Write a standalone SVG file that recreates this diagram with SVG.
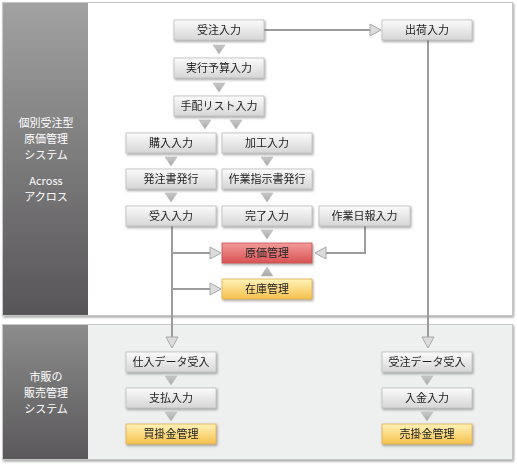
<svg xmlns="http://www.w3.org/2000/svg" width="517" height="465" viewBox="0 0 517 465">
<defs>
<linearGradient id="gNode" x1="0" y1="0" x2="0" y2="1"><stop offset="0" stop-color="#fbfbfb"/><stop offset="1" stop-color="#d6d6d6"/></linearGradient>
<linearGradient id="gRed" x1="0" y1="0" x2="0" y2="1"><stop offset="0" stop-color="#f29a9a"/><stop offset="1" stop-color="#d95252"/></linearGradient>
<linearGradient id="gYel" x1="0" y1="0" x2="0" y2="1"><stop offset="0" stop-color="#fff2b8"/><stop offset="1" stop-color="#f6c04e"/></linearGradient>
<linearGradient id="gSide1" x1="0" y1="0" x2="0" y2="1"><stop offset="0" stop-color="#a2a2a2"/><stop offset="1" stop-color="#575557"/></linearGradient>
<linearGradient id="gSide2" x1="0" y1="0" x2="0" y2="1"><stop offset="0" stop-color="#8c8c8c"/><stop offset="1" stop-color="#5a585a"/></linearGradient>
<linearGradient id="gTri" x1="0" y1="0" x2="0" y2="1"><stop offset="0" stop-color="#c8c8c8"/><stop offset="1" stop-color="#a8a8a8"/></linearGradient>
<filter id="sh" x="-10%" y="-10%" width="130%" height="150%"><feDropShadow dx="1" dy="1.5" stdDeviation="0.8" flood-color="#555" flood-opacity="0.55"/></filter>
</defs>
<style>
.nb{fill:url(#gNode);stroke:#bdbdbd;stroke-width:0.8}
.nr{fill:url(#gRed);stroke:#c65050;stroke-width:0.8}
.ny{fill:url(#gYel);stroke:#e2b050;stroke-width:0.8}
.node{filter:url(#sh)}
.t{font-family:"Noto Sans CJK JP","Noto Sans",sans-serif;font-size:11px;fill:#222;text-anchor:middle}
.st{font-family:"Noto Sans CJK JP","Noto Sans",sans-serif;font-size:11px;fill:#fff;text-anchor:middle}
.tri{fill:url(#gTri);stroke:#b8b8b8;stroke-width:0.6}
.ln{fill:none;stroke:#9c9c9c;stroke-width:2}
.hd{fill:#dcdcdc;stroke:#a8a8a8;stroke-width:1}
</style>

<g id="panel-top">
<rect x="2.5" y="2.5" width="510" height="313" fill="#ffffff" stroke="#c8c8c8" filter="url(#sh)"/>
<rect x="3" y="3" width="85" height="312" fill="url(#gSide1)"/>
<text class="st" x="46" y="127">個別受注型</text>
<text class="st" x="46" y="143">原価管理</text>
<text class="st" x="46" y="159">システム</text>
<text class="st" x="46" y="185">Across</text>
<text class="st" x="46" y="201">アクロス</text>
</g>
<g id="panel-bottom">
<rect x="2.5" y="324.5" width="510" height="135" fill="#eef0f0" stroke="#c8c8c8" filter="url(#sh)"/>
<rect x="3" y="325" width="85" height="134" fill="url(#gSide2)"/>
<text class="st" x="46" y="381">市販の</text>
<text class="st" x="46" y="397">販売管理</text>
<text class="st" x="46" y="413">システム</text>
</g>

<g id="connectors">
<path class="ln" d="M264 30 H371"/>
<path class="hd" d="M370 24 L381 30 L370 36 Z"/>
<path class="ln" d="M428 40 V338"/>
<path class="hd" d="M422 337 L428 348 L434 337 Z"/>
<path class="ln" d="M172 226 V338"/>
<path class="hd" d="M166 337 L172 348 L178 337 Z"/>
<path class="ln" d="M172 253 H211"/>
<path class="hd" d="M210 247 L221 253 L210 259 Z"/>
<path class="ln" d="M172 289 H211"/>
<path class="hd" d="M210 283 L221 289 L210 295 Z"/>
<path class="ln" d="M365 226 V253 H325"/>
<path class="hd" d="M326 247 L315 253 L326 259 Z"/>
<path class="tri" d="M213 45 H225 L219 54 Z"/>
<path class="tri" d="M213 83 H225 L219 92 Z"/>
<path class="tri" d="M199 120 H211 L205 129 Z"/>
<path class="tri" d="M230 120 H242 L236 129 Z"/>
<path class="tri" d="M165 157 H177 L171 166 Z"/>
<path class="tri" d="M261 157 H273 L267 166 Z"/>
<path class="tri" d="M165 193 H177 L171 202 Z"/>
<path class="tri" d="M261 193 H273 L267 202 Z"/>
<path class="tri" d="M261 230 H273 L267 239 Z"/>
<path class="tri" d="M261 276 H273 L267 267 Z"/>
<path class="tri" d="M165 376 H177 L171 385 Z"/>
<path class="tri" d="M165 412 H177 L171 421 Z"/>
<path class="tri" d="M421 376 H433 L427 385 Z"/>
<path class="tri" d="M421 412 H433 L427 421 Z"/>
</g>

<g id="n-juchu" class="node"><rect class="nb" x="174" y="20" width="90" height="20"/><text class="t" x="219" y="34">受注入力</text></g>
<g id="n-shukka" class="node"><rect class="nb" x="382" y="20" width="90" height="20"/><text class="t" x="427" y="34">出荷入力</text></g>
<g id="n-yosan" class="node"><rect class="nb" x="174" y="58" width="90" height="20"/><text class="t" x="219" y="72">実行予算入力</text></g>
<g id="n-tehai" class="node"><rect class="nb" x="174" y="96" width="90" height="20"/><text class="t" x="219" y="110">手配リスト入力</text></g>
<g id="n-konyu" class="node"><rect class="nb" x="126" y="133" width="90" height="20"/><text class="t" x="171" y="147">購入入力</text></g>
<g id="n-kako" class="node"><rect class="nb" x="222" y="133" width="90" height="20"/><text class="t" x="267" y="147">加工入力</text></g>
<g id="n-hatchu" class="node"><rect class="nb" x="126" y="169" width="90" height="20"/><text class="t" x="171" y="183">発注書発行</text></g>
<g id="n-sagyoshiji" class="node"><rect class="nb" x="222" y="169" width="90" height="20"/><text class="t" x="267" y="183">作業指示書発行</text></g>
<g id="n-ukeire" class="node"><rect class="nb" x="126" y="206" width="90" height="20"/><text class="t" x="171" y="220">受入入力</text></g>
<g id="n-kanryo" class="node"><rect class="nb" x="222" y="206" width="90" height="20"/><text class="t" x="267" y="220">完了入力</text></g>
<g id="n-nippo" class="node"><rect class="nb" x="319" y="206" width="91" height="20"/><text class="t" x="364.5" y="220">作業日報入力</text></g>
<g id="n-genka" class="node"><rect class="nr" x="222" y="243" width="90" height="20"/><text class="t" x="267" y="257">原価管理</text></g>
<g id="n-zaiko" class="node"><rect class="ny" x="222" y="279" width="90" height="20"/><text class="t" x="267" y="293">在庫管理</text></g>
<g id="n-shiire" class="node"><rect class="nb" x="126" y="352" width="90" height="20"/><text class="t" x="171" y="366">仕入データ受入</text></g>
<g id="n-shiharai" class="node"><rect class="nb" x="126" y="388" width="90" height="20"/><text class="t" x="171" y="402">支払入力</text></g>
<g id="n-kaikake" class="node"><rect class="ny" x="126" y="424" width="90" height="20"/><text class="t" x="171" y="438">買掛金管理</text></g>
<g id="n-juchudata" class="node"><rect class="nb" x="382" y="352" width="90" height="20"/><text class="t" x="427" y="366">受注データ受入</text></g>
<g id="n-nyukin" class="node"><rect class="nb" x="382" y="388" width="90" height="20"/><text class="t" x="427" y="402">入金入力</text></g>
<g id="n-urikake" class="node"><rect class="ny" x="382" y="424" width="90" height="20"/><text class="t" x="427" y="438">売掛金管理</text></g>
</svg>
